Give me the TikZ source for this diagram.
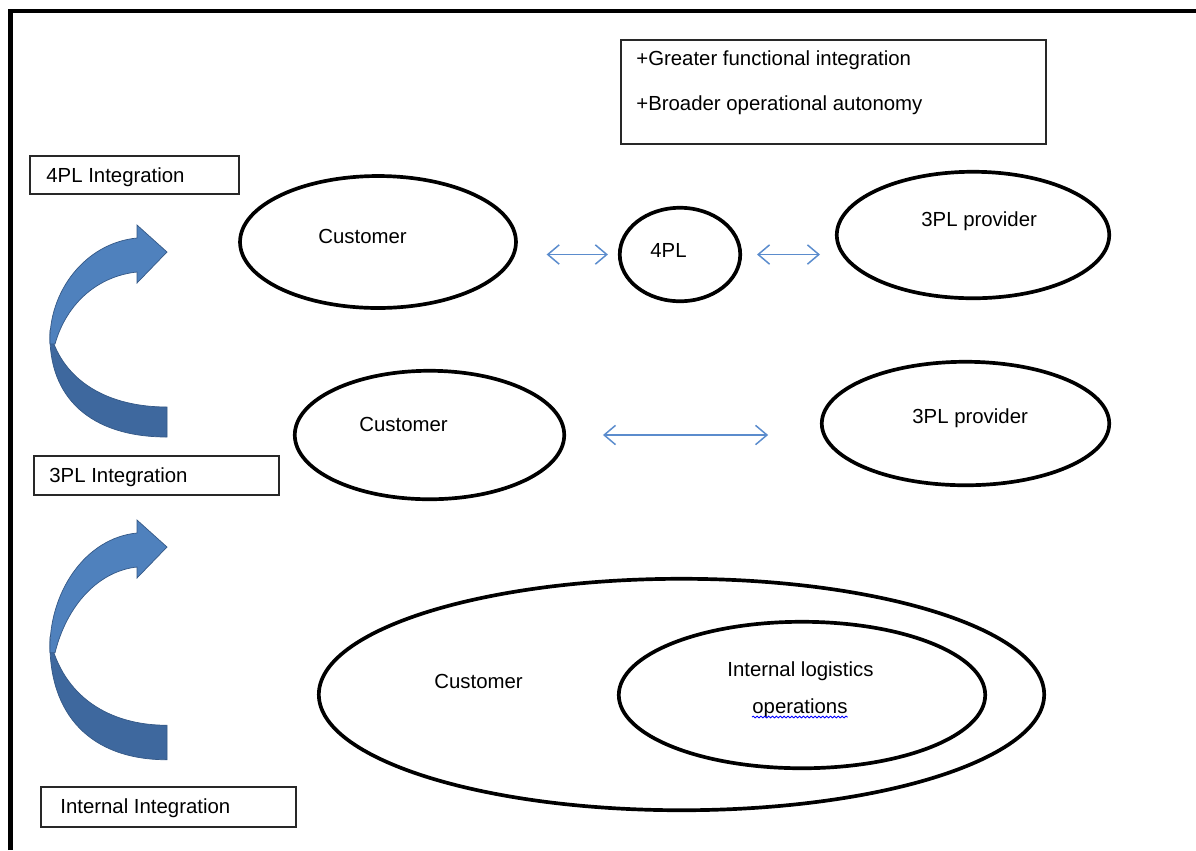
\documentclass[tikz,border=0pt]{standalone}
\usepackage{fontspec}
\setmainfont{Liberation Sans}
\usetikzlibrary{shapes.geometric,arrows.meta,calc,decorations.pathmorphing}

\definecolor{turnlight}{RGB}{79,129,189}
\definecolor{turndark}{RGB}{62,104,158}
\definecolor{turnedge}{RGB}{52,88,134}
\definecolor{linkblue}{RGB}{91,140,205}
\definecolor{boxline}{RGB}{40,40,40}

\tikzset{
  oval/.style={ellipse,draw=black,line width=2.1pt,inner sep=0pt},
  tag/.style={draw=boxline,line width=0.75pt,inner sep=0pt},
  txt/.style={anchor=base west,inner sep=0pt,font=\fontsize{11.6}{14}\selectfont},
  link/.style={draw=linkblue,line width=0.85pt,
    {Straight Barb[length=6.5pt,width=11pt]}-{Straight Barb[length=6.5pt,width=11pt]}},
  % curved "step up" arrow; the argument stretches the lower body
  turn/.pic={
    \filldraw[fill=turndark,draw=turnedge,line width=0.4pt]
      (0,{185*#1}) .. controls (-76,{185*#1}) and (-119,{146*#1}) .. (-117,{80*#1})
      .. controls (-104,{130*#1}) and (-58,{155*#1}) .. (0,{155*#1}) -- cycle;
    \filldraw[fill=turnlight,draw=turnedge,line width=0.4pt]
      (-117,{92*#1}) .. controls (-119,{40*#1}) and (-82,-9) .. (-30,-14)
      -- (-30,-27) -- (0,0) -- (-30,31) -- (-30,20)
      .. controls (-68,24) and (-100,{50*#1}) .. (-112,{92*#1}) -- cycle;
  }
}

\begin{document}
\begin{tikzpicture}[x=0.02cm,y=-0.02cm]
\useasboundingbox (0,0) rectangle (1196,850);

% page frame (top and left edges)
\draw[line width=2.8pt] (10.5,850) -- (10.5,11) -- (1196,11);

% summary box
\node[tag,minimum width=8.5cm,minimum height=2.08cm] (summary) at (833.5,92) {};
\node[txt] (sum1) at (636,65.5) {+Greater functional integration};
\node[txt] (sum2) at (636,110.5) {+Broader operational autonomy};

% level tags
\node[tag,minimum width=4.18cm,minimum height=0.76cm] (tag4) at (134.5,175) {};
\node[txt] (tag4t) at (46,182) {4PL Integration};
\node[tag,minimum width=4.9cm,minimum height=0.78cm] (tag3) at (156.5,475.5) {};
\node[txt] (tag3t) at (49,482) {3PL Integration};
\node[tag,minimum width=5.1cm,minimum height=0.8cm] (tagi) at (168.5,807) {};
\node[txt] (tagit) at (60,813) {Internal Integration};

% step-up arrows
\pic at (167,252) {turn=1};
\pic at (167,547) {turn=1.15};

% 4PL level
\node[oval,minimum width=5.52cm,minimum height=2.64cm] (c1) at (378,242) {};
\node[txt] (c1t) at (318,243) {Customer};
\node[oval,minimum width=2.41cm,minimum height=1.87cm] (p4) at (680,254.5) {};
\node[txt] (p4t) at (650,257) {4PL};
\node[oval,minimum width=5.45cm,minimum height=2.53cm] (pv1) at (973,235) {};
\node[txt] (pv1t) at (921,226) {3PL provider};

\draw[link,shorten <=16.4pt,shorten >=5.7pt]
  (p4.west -| c1.east) -- (p4.west);
\draw[link,shorten <=8.5pt,shorten >=8.5pt]
  (p4.east) -- (p4.east -| pv1.west);

% 3PL level
\node[oval,minimum width=5.39cm,minimum height=2.57cm] (c2) at (429.5,435) {};
\node[txt] (c2t) at (359,431) {Customer};
\node[oval,minimum width=5.75cm,minimum height=2.47cm] (pv2) at (965.5,423.5) {};
\node[txt] (pv2t) at (912,423) {3PL provider};

\draw[link,shorten <=21pt,shorten >=29.5pt]
  (c2.east) -- (c2.east -| pv2.west);

% internal level
\node[oval,minimum width=14.51cm,minimum height=4.63cm] (c3) at (681.5,694.5) {};
\node[txt] (c3t) at (434,688) {Customer};
\node[oval,minimum width=7.33cm,minimum height=2.93cm] (il) at (802,695) {};
\node[txt] (il1) at (727,676) {Internal logistics};
\node[txt] (il2) at (752,713) {operations};
\draw[blue,line width=0.5pt,decorate,
  decoration={snake,amplitude=0.5pt,segment length=2.2pt}]
  ($(il2.base west)+(0,4)$) -- ($(il2.base east)+(0,4)$);
\end{tikzpicture}
\end{document}
